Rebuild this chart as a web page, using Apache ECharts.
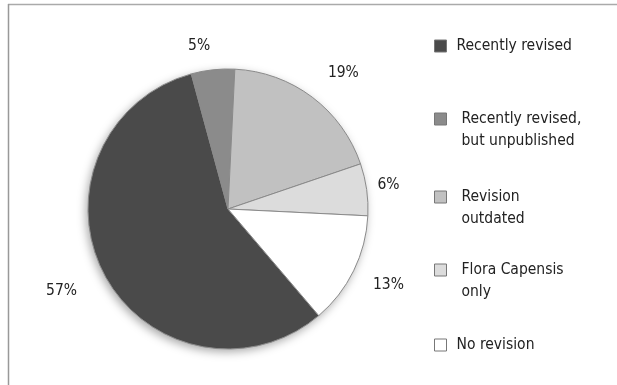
<!DOCTYPE html>
<html>
<head>
<meta charset="utf-8">
<script src="https://cdn.jsdelivr.net/npm/echarts@6/dist/echarts.min.js"></script>
<style>
  html, body { margin: 0; padding: 0; background: #fff; }
  #chart { width: 617px; height: 385px; }
</style>
</head>
<body>
<div id="chart"></div>
<script>
// Revision status of taxa (share of total, %)
const categories = [
  'Recently revised',
  'Recently revised, but unpublished',
  'Revision outdated',
  'Flora Capensis only',
  'No revision'
];
// Legend wording; a leading blank line keeps the key square beside the first line
const legendText = [
  'Recently revised',
  '\nRecently revised,\nbut unpublished',
  '\nRevision\noutdated',
  '\nFlora Capensis\nonly',
  'No revision'
];
const shares = [57, 5, 19, 6, 13];
const sliceColors = ['#4a4a4a', '#8b8b8b', '#c1c1c1', '#dcdcdc', '#ffffff'];

const FONT = '"Liberation Sans Narrow", "DejaVu Sans Condensed", "Roboto", sans-serif';
const FONT_SIZE = 15.5;

// Small per-label nudges for the percentage labels (pixels)
const labelNudge = [[-4, 9], [8, -8], [-3, -11], [-14, -2], [-4, 7]];

const chart = echarts.init(document.getElementById('chart'), null, { renderer: 'canvas' });

// One legend block per category so each entry can sit at its own height
const legendTops = [35, 86, 164, 237, 334];
const legends = categories.map((name, i) => {
  const twoLine = legendText[i].indexOf('\n') >= 0;
  return {
    orient: 'vertical',
    left: 434,
    top: legendTops[i],
    padding: 0,
    itemWidth: 12,
    itemHeight: 12,
    icon: 'rect',
    selectedMode: false,
    data: [{ name: name, itemStyle: { borderColor: '#777', borderWidth: 1 } }],
    formatter: () => legendText[i],
    textStyle: {
      fontFamily: FONT,
      fontSize: FONT_SIZE,
      color: '#222',
      lineHeight: 22,
      padding: twoLine ? [0, 0, 0, 10] : [0, 0, 0, 5]
    }
  };
});

chart.setOption({
  animation: false,
  backgroundColor: '#fff',
  color: sliceColors,
  graphic: [
    { type: 'line', shape: { x1: 8, y1: 4.5, x2: 617, y2: 4.5 }, style: { stroke: '#aaa', lineWidth: 1.5 } },
    { type: 'line', shape: { x1: 8.5, y1: 4, x2: 8.5, y2: 385 }, style: { stroke: '#999', lineWidth: 1.5 } }
  ],
  legend: legends,
  series: [
    {
      // soft drop shadow under the whole disc
      type: 'pie',
      center: [228, 209],
      radius: 140,
      silent: true,
      z: 1,
      label: { show: false },
      labelLine: { show: false },
      itemStyle: {
        color: '#fff',
        shadowBlur: 10,
        shadowColor: 'rgba(0,0,0,0.35)',
        shadowOffsetX: -2,
        shadowOffsetY: 3
      },
      data: [{ name: '', value: 1 }]
    },
    {
      type: 'pie',
      center: [228, 209],
      radius: 140,
      startAngle: -49.6,
      clockwise: true,
      silent: true,
      z: 2,
      itemStyle: {
        borderColor: '#8a8a8a',
        borderWidth: 1
      },
      label: {
        show: true,
        position: 'outside',
        formatter: '{c}%',
        fontFamily: FONT,
        fontSize: FONT_SIZE,
        color: '#222'
      },
      labelLine: { show: false, length: 16, length2: 4 },
      labelLayout: (p) => ({ dx: labelNudge[p.dataIndex][0], dy: labelNudge[p.dataIndex][1] }),
      data: categories.map((name, i) => ({ name: name, value: shares[i] }))
    }
  ]
});
</script>
</body>
</html>
